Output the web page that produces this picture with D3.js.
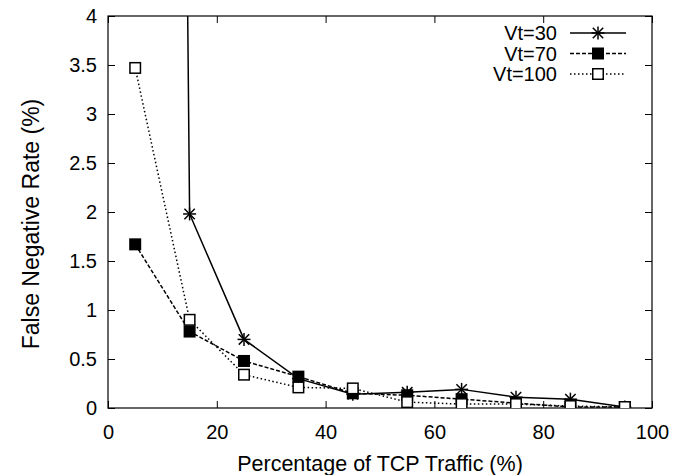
<!DOCTYPE html>
<html>
<head>
<meta charset="utf-8">
<script src="https://cdn.jsdelivr.net/npm/d3@7"></script>
<style>
  html, body { margin: 0; padding: 0; background: #fff; }
  svg { display: block; }
  text { font-family: "Liberation Sans", Arial, Helvetica, sans-serif; fill: #000; }
</style>
</head>
<body>
<svg id="chart" width="687" height="475"></svg>
<script>
// TCP traffic share (%) at which each measurement was taken
const tcpShare = [5, 15, 25, 35, 45, 55, 65, 75, 85, 95];

// False negative rate (%) for each threshold Vt
const vt30  = [60, 1.98, 0.70, 0.30, 0.14, 0.16, 0.19, 0.11, 0.09, 0.01];
const vt70  = [1.67, 0.78, 0.48, 0.32, 0.15, 0.13, 0.09, 0.05, 0.01, 0.01];
const vt100 = [3.47, 0.90, 0.34, 0.21, 0.20, 0.06, 0.04, 0.04, 0.02, 0.01];

const seriesNames = ["Vt=30", "Vt=70", "Vt=100"];

const xTicks = [0, 20, 40, 60, 80, 100];
const yTicks = [0, 0.5, 1, 1.5, 2, 2.5, 3, 3.5, 4];

const FS = 20;
const margin = { left: 108, right: 35, top: 16, bottom: 67 };
const W = 687, H = 475;
const svg = d3.select("#chart");

const x = d3.scaleLinear().domain([0, 100]).range([margin.left, W - margin.right]);
const y = d3.scaleLinear().domain([0, 4]).range([H - margin.bottom, margin.top]);

const x0 = x.range()[0], x1 = x.range()[1];
const y0 = y.range()[0], y1 = y.range()[1];

svg.append("defs").append("clipPath").attr("id", "plotclip")
  .append("rect").attr("x", x0).attr("y", y1).attr("width", x1 - x0).attr("height", y0 - y1);

const tickLen = 7;

// Axes with inward ticks, mirrored on the top and right
const axisStyle = g => {
  g.select(".domain").remove();
  g.selectAll("line").attr("stroke", "#000").attr("stroke-width", 1);
  g.selectAll("text").attr("font-size", FS).attr("font-family", null);
};

svg.append("g").attr("transform", `translate(0,${y0})`)
  .call(d3.axisBottom(x).tickValues(xTicks).tickFormat(d3.format("d"))
    .tickSizeInner(-tickLen).tickSizeOuter(0).tickPadding(17))
  .call(axisStyle);

svg.append("g").attr("transform", `translate(0,${y1})`)
  .call(d3.axisTop(x).tickValues(xTicks).tickFormat("").tickSizeInner(-tickLen).tickSizeOuter(0))
  .call(axisStyle);

svg.append("g").attr("transform", `translate(${x0},0)`)
  .call(d3.axisLeft(y).tickValues(yTicks).tickFormat(d => String(d))
    .tickSizeInner(-tickLen).tickSizeOuter(0).tickPadding(11))
  .call(axisStyle);

svg.append("g").attr("transform", `translate(${x1},0)`)
  .call(d3.axisRight(y).tickValues(yTicks).tickFormat("").tickSizeInner(-tickLen).tickSizeOuter(0))
  .call(axisStyle);

// Frame
svg.append("rect").attr("x", x0).attr("y", y1).attr("width", x1 - x0).attr("height", y0 - y1)
  .attr("fill", "none").attr("stroke", "#000").attr("stroke-width", 1.2);

// Axis titles
svg.append("text").attr("x", 380).attr("y", 471).attr("text-anchor", "middle")
  .attr("font-size", 21.5).text("Percentage of TCP Traffic (%)");
svg.append("text").attr("transform", `translate(39,224) rotate(-90)`)
  .attr("text-anchor", "middle").attr("font-size", 23).text("False Negative Rate (%)");

// Marker drawing helpers
const S = 12;
function drawMarker(g, kind, cx, cy) {
  if (kind === "star") {
    const r = 6.5;
    const p = g.append("g").attr("transform", `translate(${cx},${cy})`)
      .attr("stroke", "#000").attr("stroke-width", 1.5);
    p.append("line").attr("x1", -r).attr("x2", r).attr("y1", 0).attr("y2", 0);
    p.append("line").attr("x1", 0).attr("x2", 0).attr("y1", -r).attr("y2", r);
    p.append("line").attr("x1", -r * 0.8).attr("x2", r * 0.8).attr("y1", -r * 0.8).attr("y2", r * 0.8);
    p.append("line").attr("x1", -r * 0.8).attr("x2", r * 0.8).attr("y1", r * 0.8).attr("y2", -r * 0.8);
  } else if (kind === "filled") {
    g.append("rect").attr("x", cx - S / 2).attr("y", cy - S / 2).attr("width", S).attr("height", S)
      .attr("fill", "#000");
  } else {
    g.append("rect").attr("x", cx - S / 2 + 0.75).attr("y", cy - S / 2 + 0.75)
      .attr("width", S - 1.5).attr("height", S - 1.5)
      .attr("fill", "#fff").attr("stroke", "#000").attr("stroke-width", 1.5);
  }
}

const series = [
  { name: seriesNames[0], values: vt30,  dash: null,  marker: "star" },
  { name: seriesNames[1], values: vt70,  dash: "4,2", marker: "filled" },
  { name: seriesNames[2], values: vt100, dash: "1.5,2.5", marker: "open" }
];

const line = d3.line().x((d, i) => x(tcpShare[i])).y(d => y(d));

const plot = svg.append("g").attr("clip-path", "url(#plotclip)");

series.forEach(s => {
  plot.append("path").datum(s.values).attr("d", line)
    .attr("fill", "none").attr("stroke", "#000").attr("stroke-width", 1.5)
    .attr("stroke-dasharray", s.dash);
});
series.forEach(s => {
  const mg = plot.append("g");
  s.values.forEach((v, i) => {
    if (v <= 4) drawMarker(mg, s.marker, x(tcpShare[i]), y(v));
  });
});

// Legend
const legend = svg.append("g");
series.forEach((s, i) => {
  const ly = 33 + i * 20.5;
  legend.append("text").attr("x", 557).attr("y", ly + 7).attr("text-anchor", "end")
    .attr("font-size", FS).text(s.name);
  legend.append("line").attr("x1", 570).attr("x2", 626).attr("y1", ly).attr("y2", ly)
    .attr("stroke", "#000").attr("stroke-width", 1.5).attr("stroke-dasharray", s.dash);
  drawMarker(legend, s.marker, 598, ly);
});
</script>
</body>
</html>
